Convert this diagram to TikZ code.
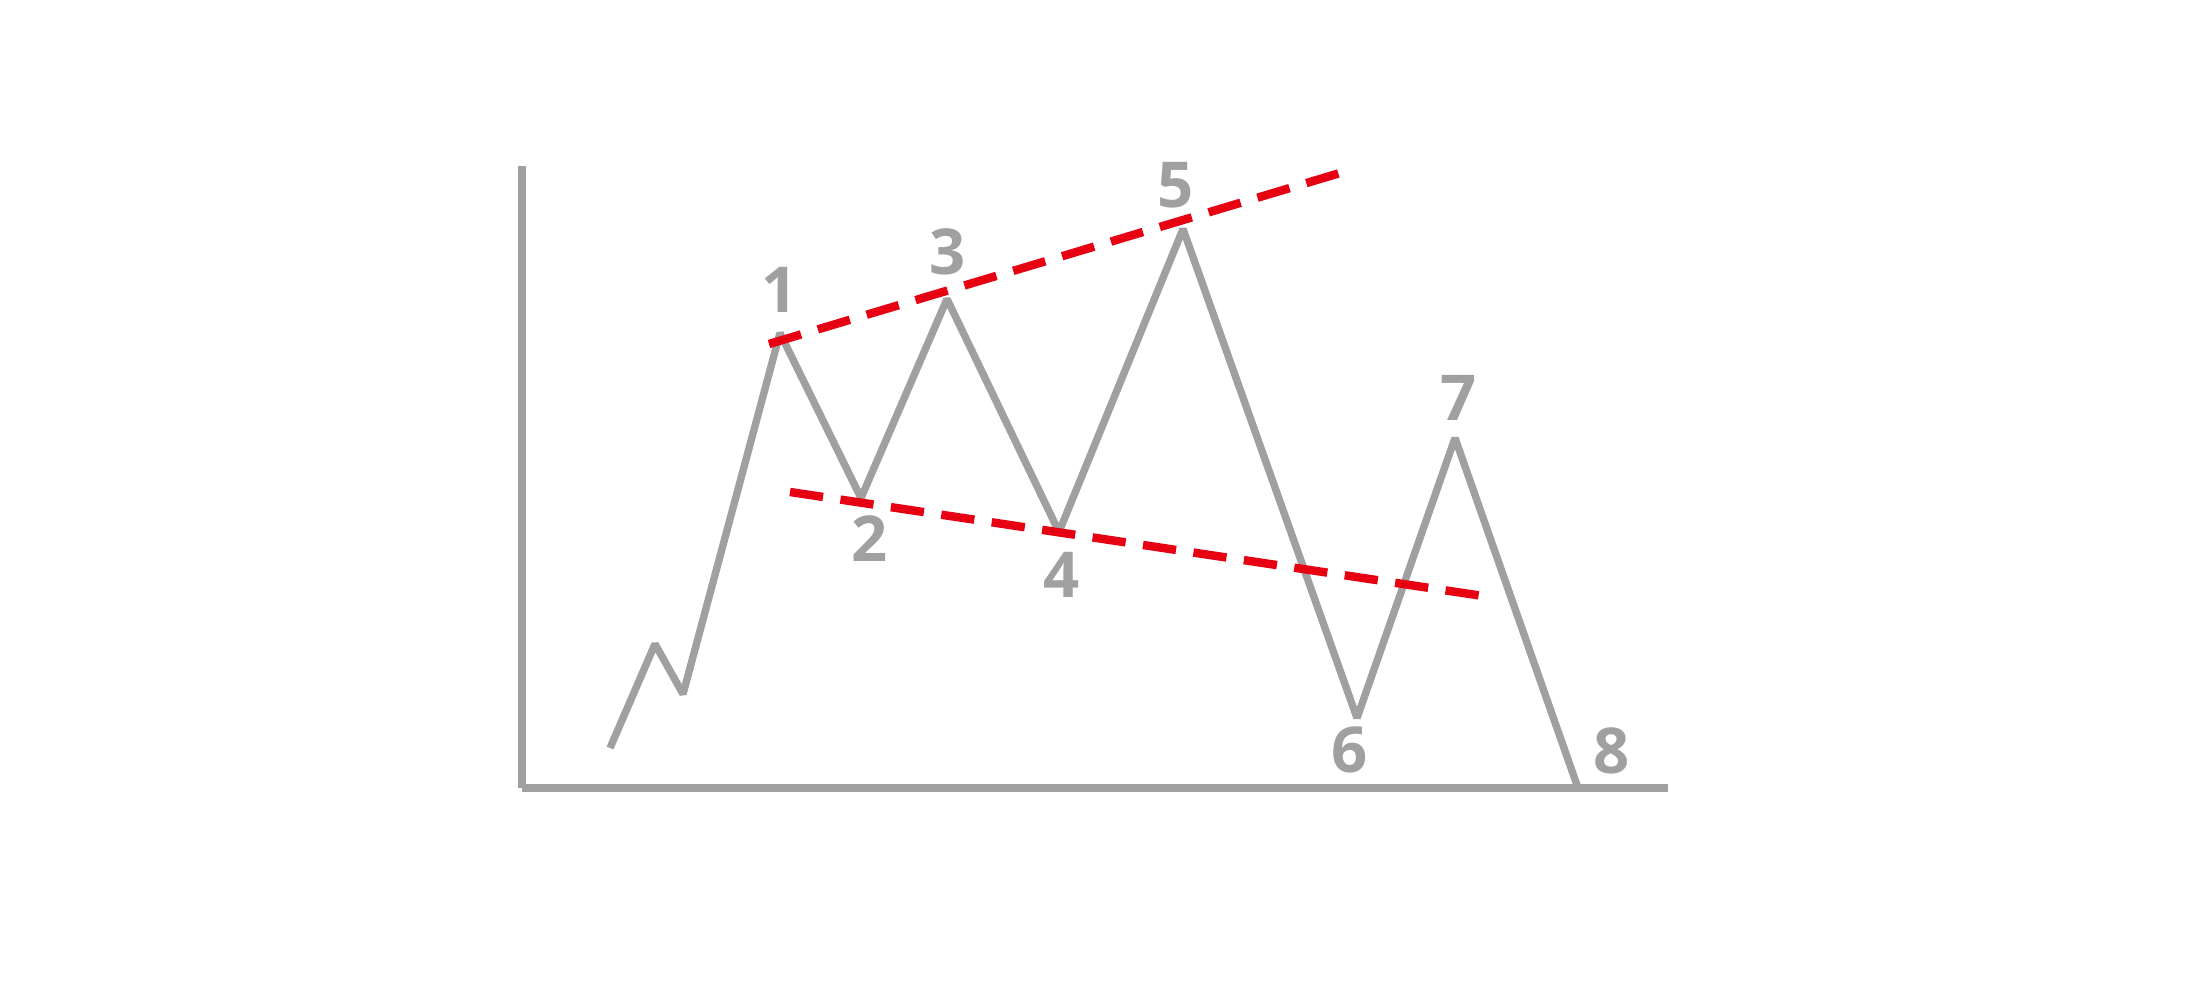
\documentclass[tikz,border=0pt]{standalone}
\usepackage{fontspec}
\setmainfont{Open Sans}
\definecolor{axisgray}{HTML}{A0A0A0}
\definecolor{trendred}{HTML}{E60012}
\begin{document}
\begin{tikzpicture}[x=0.01cm,y=-0.01cm,
  axisline/.style={draw=axisgray,line width=2.4pt},
  waveline/.style={draw=axisgray,line width=2.1pt,line join=bevel},
  trendline/.style={draw=trendred,line width=2.4pt,dash pattern=on 9.5pt off 5pt},
  wavelabel/.style={text=axisgray,font=\fontsize{18}{20}\selectfont\bfseries,inner sep=0pt}]
\useasboundingbox[fill=white] (0,0) rectangle (2200,1000);
% axes
\coordinate (ytop) at (522,166);
\coordinate (origin) at (522,788);
\coordinate (xend) at (1668,788);
\draw[axisline] (ytop) -- (origin);
\draw[axisline] (origin) -- (xend);
% wave points
\coordinate (p0) at (610,748);
\coordinate (pa) at (655,644);
\coordinate (pb) at (683,694);
\coordinate (p1) at (780,333);
\coordinate (p2) at (861,498);
\coordinate (p3) at (947,299);
\coordinate (p4) at (1059,532);
\coordinate (p5) at (1183,229);
\coordinate (p6) at (1357,718);
\coordinate (p7) at (1455,438);
\coordinate (p8) at (1578,788);
\draw[waveline] (p0) -- (pa) -- (pb) -- (p1) -- (p2) -- (p3) -- (p4) -- (p5) -- (p6) -- (p7) -- (p8);
% trend lines
\coordinate (ua) at (769,344);
\coordinate (ub) at (1350,170);
\coordinate (la) at (790,492);
\coordinate (lb) at (1483,596);
\draw[trendline] (ua) -- (ub);
\draw[trendline] (la) -- (lb);
% labels
\node[wavelabel] (l1) at (780,290) {1};
\node[wavelabel] (l2) at (870,539) {2};
\node[wavelabel] (l3) at (948,252) {3};
\node[wavelabel] (l4) at (1062,575) {4};
\node[wavelabel] (l5) at (1176,185) {5};
\node[wavelabel] (l6) at (1350,750) {6};
\node[wavelabel] (l7) at (1459,398) {7};
\node[wavelabel] (l8) at (1612,751) {8};
\end{tikzpicture}
\end{document}
